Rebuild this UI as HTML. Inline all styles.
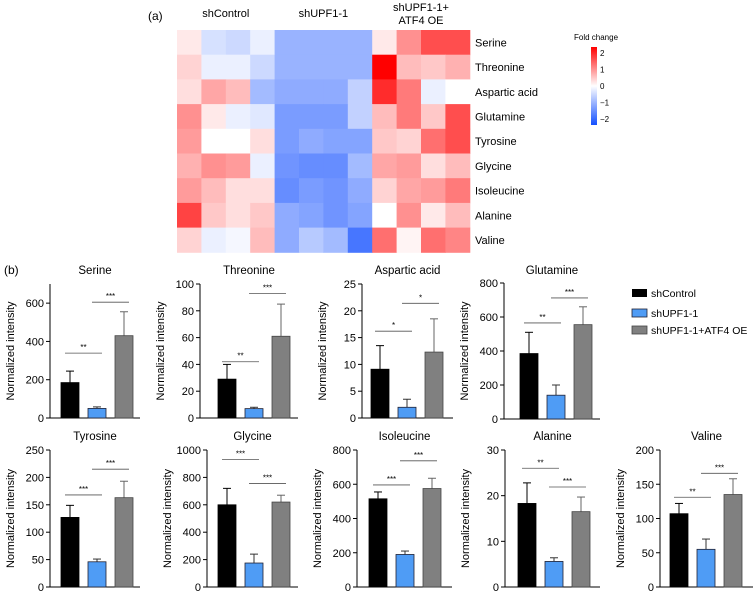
<!DOCTYPE html>
<html><head><meta charset="utf-8"><style>
html,body{margin:0;padding:0;background:#fff;}
svg{display:block;font-family:"Liberation Sans",Arial,sans-serif;}
</style></head><body>
<svg id="fig" width="756" height="599" viewBox="0 0 756 599" xmlns="http://www.w3.org/2000/svg">
<text x="148" y="20" font-size="12">(a)</text>
<text x="4" y="274" font-size="12">(b)</text>
<g id="heat"></g>
<g id="bars"></g>
<g>
<rect x="632" y="289" width="15" height="8" fill="#000"/>
<text x="651" y="297" font-size="10.5">shControl</text>
<rect x="632" y="309" width="15" height="8" fill="#4f9cf5" stroke="#223" stroke-width="0.8"/>
<text x="651" y="317" font-size="10.5">shUPF1-1</text>
<rect x="632" y="326" width="15" height="8" fill="#808080" stroke="#444" stroke-width="0.8"/>
<text x="651" y="334" font-size="10.5">shUPF1-1+ATF4 OE</text>
</g>
</svg>
<script>
const NS="http://www.w3.org/2000/svg";
// ---- heatmap data ----
const heatRows=["Serine","Threonine","Aspartic acid","Glutamine","Tyrosine","Glycine","Isoleucine","Alanine","Valine"];
const heatGroups=["shControl","shUPF1-1","shUPF1-1+|ATF4 OE"];
const heatValues=[
[0.2,-0.4,-0.5,-0.2,-1.0,-1.0,-1.0,-1.0,0.2,1.0,1.6,1.6],
[0.4,-0.2,-0.2,-0.5,-1.0,-1.0,-1.0,-1.0,2.3,0.6,0.5,0.7],
[0.3,0.8,0.6,-0.9,-1.1,-1.1,-1.1,-0.6,1.9,1.2,-0.2,0.0],
[1.0,0.2,-0.2,-0.3,-1.3,-1.3,-1.3,-0.6,0.6,1.2,0.5,1.6],
[0.9,0.0,0.0,0.3,-1.3,-1.1,-1.2,-1.2,0.5,0.4,1.3,1.6],
[0.7,1.0,0.9,-0.2,-1.4,-1.5,-1.5,-0.9,0.8,0.9,0.3,0.6],
[0.9,0.6,0.3,0.3,-1.5,-1.3,-1.4,-1.1,0.4,0.8,0.9,1.2],
[1.7,0.5,0.3,0.5,-1.1,-1.2,-1.4,-1.2,0.0,1.0,0.2,0.6],
[0.4,-0.2,-0.1,0.6,-1.1,-0.7,-0.9,-1.8,1.3,0.1,1.3,1.1]];
const cbTicks=[2,1,0,-1,-2];
// ---- bar data ----
const panelNames=["Serine","Threonine","Aspartic acid","Glutamine","Tyrosine","Glycine","Isoleucine","Alanine","Valine"];
const panelMax=[700,100,25,800,250,1000,800,30,200];
const panelStep=[200,20,5,200,50,200,200,10,50];
const meanVals=[[185,50,430],[29,7,61],[9.1,2,12.3],[385,140,555],[127,46,163],[600,175,620],[515,190,575],[18.3,5.6,16.5],[107,55,135]];
const errVals=[[60,8,125],[11,1,24],[4.4,1.5,6.2],[125,60,105],[22,5,30],[120,65,50],[40,20,60],[4.5,0.8,3.2],[15,15,23]];
const sigLevel=[[339,605],[42,93],[16.2,21.4],[565,712],[168,215],[930,755],[596,737],[26,21.9],[131,166]];
const sigText=[["**","***"],["**","***"],["*","*"],["**","***"],["***","***"],["***","***"],["***","***"],["**","***"],["**","***"]];

function el(tag,attrs,parent){const e=document.createElementNS(NS,tag);for(const k in attrs)e.setAttribute(k,attrs[k]);parent.appendChild(e);return e;}

// heatmap
const H=document.getElementById('heat');
const hx0=177,hy0=30,cw=24.4,ch=24.7;
function heatColor(v){
  if(v>=0){const t=Math.min(v/2.3,1);const c=Math.round(255*(1-t));return `rgb(255,${c},${c})`;}
  const t=Math.min(-v/2.3,1);return `rgb(${Math.round(255-235*t)},${Math.round(255-175*t)},255)`;
}
heatValues.forEach((row,r)=>{
  row.forEach((v,c)=>{
    const cell=el('rect',{x:hx0+c*cw,y:hy0+r*ch,width:cw+0.5,height:ch+0.5,fill:heatColor(v)},H);
    
    
  });
  const t=el('text',{x:475,y:hy0+r*ch+ch/2+4,'font-size':11},H);t.textContent=heatRows[r];
  
  
});
heatGroups.forEach((g,i)=>{
  const cx=hx0+(i*4+2)*cw;const parts=g.split('|');
  parts.forEach((p,j)=>{
    const t=el('text',{x:cx,y:(parts.length>1?11+j*13:17),'font-size':11,'text-anchor':'middle'},H);t.textContent=p;
    
    
  });
});
// colorbar
const defs=el('defs',{},H);
const lg=el('linearGradient',{id:'cbg',x1:0,y1:0,x2:0,y2:1},defs);
[[0,'rgb(255,0,0)'],[0.5,'#fff'],[1,'rgb(20,80,255)']].forEach(s=>el('stop',{offset:s[0],'stop-color':s[1]},lg));
const cb=el('rect',{x:591,y:47,width:6,height:78,fill:'url(#cbg)'},H);


const ft=el('text',{x:596,y:40,'font-size':8,'text-anchor':'middle'},H);ft.textContent='Fold change';


cbTicks.forEach(v=>{
  const y=86-v*16.5;
  const t=el('text',{x:600,y:y+3,'font-size':8},H);t.textContent=(v<0?'\u2212':'')+Math.abs(v);
  
  
});

// bar charts
const B=document.getElementById('bars');
const geo=[ // axisX, bar0X, endX, y0, ytop, titleY
[50,61,140,418,284,274],[200,218,298,418,284,274],[362,371,453,418,284,274],[504,520,600,419,283,274],
[50,61,140,587,450,440],[207,218,298,587,450,440],[357,369,452,587,450,440],[505,518,600,587,450,440],[660,670,753,587,450,440]];
const fills=['#000','#4f9cf5','#808080'],strokes=['#000','#223','#444'],errc=['#000','#333','#666'];
panelNames.forEach((name,p)=>{
  const [ax,b0,ex,y0,yt,ty]=geo[p];const mx=panelMax[p];
  const g=el('g',{},B);
  
  
  const Y=v=>y0-(v/mx)*(y0-yt);
  const tt=el('text',{x:(ax+ex)/2,y:ty,'font-size':11.5,'text-anchor':'middle'},g);tt.textContent=name;
  
  
  el('line',{x1:ax,y1:yt,x2:ax,y2:y0,stroke:'#000','stroke-width':1},g);
  el('line',{x1:ax,y1:y0,x2:ex,y2:y0,stroke:'#000','stroke-width':1},g);
  for(let v=0;v<=mx+1e-9;v+=panelStep[p]){
    el('line',{x1:ax-4,y1:Y(v),x2:ax,y2:Y(v),stroke:'#000'},g);
    const t=el('text',{x:ax-6,y:Y(v)+4,'font-size':11,'text-anchor':'end'},g);t.textContent=v;
    
    
  }
  const lab=el('text',{x:0,y:0,'font-size':11,'text-anchor':'middle',transform:`translate(${ax-36},${(y0+yt)/2}) rotate(-90)`},g);
  lab.textContent='Normalized intensity';
  
  
  const cx=[];
  meanVals[p].forEach((m,i)=>{
    const x=b0+i*27;cx.push(x+9);
    const top=Y(m+errVals[p][i]);
    el('line',{x1:x+9,y1:Y(m),x2:x+9,y2:top,stroke:errc[i],'stroke-width':1},g);
    el('line',{x1:x+5,y1:top,x2:x+13,y2:top,stroke:errc[i],'stroke-width':1},g);
    const r=el('rect',{x:x,y:Y(m),width:18,height:y0-Y(m),fill:fills[i],stroke:strokes[i],'stroke-width':0.8},g);
    
    
  });
  sigLevel[p].forEach((lv,k)=>{
    const y=Y(lv);
    el('line',{x1:cx[k]-5,y1:y,x2:cx[k+1]+5,y2:y,stroke:'#555','stroke-width':0.8},g);
    const s=el('text',{x:(cx[k]+cx[k+1])/2,y:y-3,'font-size':8,'text-anchor':'middle'},g);s.textContent=sigText[p][k];
    
    
  });
});
</script>
</body></html>
